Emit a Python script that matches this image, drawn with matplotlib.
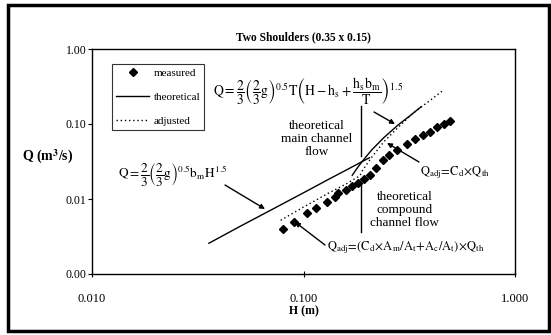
import matplotlib
matplotlib.use("Agg")
import matplotlib.pyplot as plt
from matplotlib.patches import Rectangle
from matplotlib.ticker import FixedLocator, FixedFormatter

plt.rcParams['font.family'] = 'Liberation Serif'
plt.rcParams['mathtext.fontset'] = 'stix'

# --- данные ---
measured_H = [0.080, 0.090, 0.104, 0.115, 0.129, 0.141, 0.146, 0.159, 0.170, 0.181,
              0.193, 0.206, 0.220, 0.238, 0.254, 0.277, 0.309, 0.337, 0.367, 0.396,
              0.428, 0.462, 0.493]
measured_Q = [0.0040, 0.0049, 0.0065, 0.0076, 0.0091, 0.0106, 0.0120, 0.0132, 0.0149, 0.0163,
              0.0185, 0.0209, 0.0259, 0.0331, 0.0386, 0.0450, 0.0541, 0.0631, 0.0714, 0.0782,
              0.0912, 0.100, 0.110]

theory_comp_H = [0.0357, 0.05, 0.07, 0.10, 0.13, 0.16, 0.188, 0.205]
theory_comp_Q = [0.00257, 0.0043, 0.0071, 0.0121, 0.0180, 0.0245, 0.0312, 0.0355]

theory_main_H = [0.170, 0.180, 0.190, 0.210, 0.240, 0.280, 0.320, 0.360]
theory_main_Q = [0.0207, 0.0262, 0.0320, 0.0450, 0.0660, 0.0970, 0.1300, 0.1700]

adjusted_H = [0.078, 0.100, 0.130, 0.160, 0.185, 0.190, 0.210, 0.240, 0.280, 0.330, 0.400, 0.460]
adjusted_Q = [0.0052, 0.0078, 0.0118, 0.0160, 0.0205, 0.0240, 0.0360, 0.0580, 0.0900, 0.1400, 0.2100, 0.2850]

x_ticks = [0.01, 0.1, 1.0]
x_labels = ['0.010', '0.100', '1.000']
y_ticks = [0.001, 0.01, 0.1, 1.0]
y_labels = ['0.00', '0.01', '0.10', '1.00']

h_split = 0.186                      # граница русла
split_upper = [0.172, 0.038]
split_lower = [0.0163, 0.0036]

W, H = 551, 335
fig = plt.figure(figsize=(W / 100, H / 100), dpi=100)
ax = fig.add_axes([92 / W, 1 - 274 / H, 423 / W, 225 / H])


def fpx(x, y):
    # пиксели от левого верхнего угла -> доли рисунка
    return x / W, 1 - y / H


ax.plot(measured_H, measured_Q, linestyle='none', marker='D', markersize=3.8,
        color='black', label='measured')
ax.plot(theory_comp_H, theory_comp_Q, color='black', lw=1.0, label='theoretical')
ax.plot(theory_main_H, theory_main_Q, color='black', lw=1.0)
ax.plot(adjusted_H, adjusted_Q, color='black', lw=1.0, linestyle=(0, (1, 2)), label='adjusted')

ax.set_xscale('log')
ax.set_yscale('log')
ax.set_xlim(0.01, 1.0)
ax.set_ylim(0.001, 1.0)
ax.xaxis.set_major_locator(FixedLocator(x_ticks))
ax.xaxis.set_major_formatter(FixedFormatter(x_labels))
ax.yaxis.set_major_locator(FixedLocator(y_ticks))
ax.yaxis.set_major_formatter(FixedFormatter(y_labels))
ax.xaxis.set_minor_locator(FixedLocator([]))
ax.yaxis.set_minor_locator(FixedLocator([]))
ax.tick_params(axis='x', direction='inout', length=4, pad=12, labelsize=9)
ax.tick_params(axis='y', direction='out', length=3, pad=1, labelsize=8.5)
for s in ax.spines.values():
    s.set_linewidth(1.0)

ax.set_title('Two Shoulders (0.35 x 0.15)', fontsize=8.3, fontweight='bold', pad=6)
ax.set_xlabel('H (m)', fontsize=8.5, fontweight='bold', labelpad=0)
fig.text(*fpx(48, 157), r'Q (m$^\mathbf{3}$/s)', fontsize=10, fontweight='bold',
         ha='center', va='center')

leg = ax.legend(loc='upper left', bbox_to_anchor=(20 / 423, 1 - 15 / 225), fontsize=8,
                frameon=True, fancybox=False, edgecolor='black', borderpad=0.35,
                labelspacing=1.3, handlelength=3.0, handletextpad=0.4, borderaxespad=0)
leg.get_frame().set_linewidth(0.8)

# вертикальная черта между режимами
ax.plot([h_split, h_split], split_upper, color='black', lw=1.0)
ax.plot([h_split, h_split], split_lower, color='black', lw=1.0)

fig.text(*fpx(317, 139), 'theoretical\nmain channel\nflow', fontsize=9.5, ha='center',
         va='center', linespacing=1.15)
fig.text(*fpx(405, 210), 'theoretical\ncompound\nchannel flow', fontsize=9.5, ha='center',
         va='center', linespacing=1.15)

fig.text(*fpx(213, 91),
         r'$\mathrm{Q=\dfrac{2}{3}\left(\dfrac{2}{3}g\right)^{0.5}T\left(H-h_s+\dfrac{h_s b_m}{T}\right)^{1.5}}$',
         fontsize=9.8, ha='left', va='center')
fig.text(*fpx(118, 175), r'$\mathrm{Q=\dfrac{2}{3}\left(\dfrac{2}{3}g\right)^{0.5}b_m H^{1.5}}$',
         fontsize=9.5, ha='left', va='center')
fig.text(*fpx(420, 173), r'$\mathrm{Q_{adj}\!=\!C_d\!\times\!Q_{th}}$', fontsize=9,
         ha='left', va='center')
fig.text(*fpx(327, 248), r'$\mathrm{Q_{adj}\!=\!(C_d\!\times\!A_m/A_t\!+\!A_c/A_t)\!\times\!Q_{th}}$',
         fontsize=9, ha='left', va='center')

arrow = dict(arrowstyle='-|>', color='black', lw=1.0, mutation_scale=7, shrinkA=0, shrinkB=0)
for tail, head in [((225, 185), (265, 209)), ((374, 112), (395, 124)),
                   ((419, 162), (387, 143)), ((325, 245), (295, 222))]:
    ax.annotate('', xy=fpx(*head), xycoords='figure fraction',
                xytext=fpx(*tail), textcoords='figure fraction', arrowprops=arrow)

# рамка вокруг всего рисунка
fig.patches.append(Rectangle((8 / W, 4 / H), 541 / W, 326 / H, transform=fig.transFigure,
                             fill=False, edgecolor='black', linewidth=2.5))

fig.savefig('out.png', dpi=100)
